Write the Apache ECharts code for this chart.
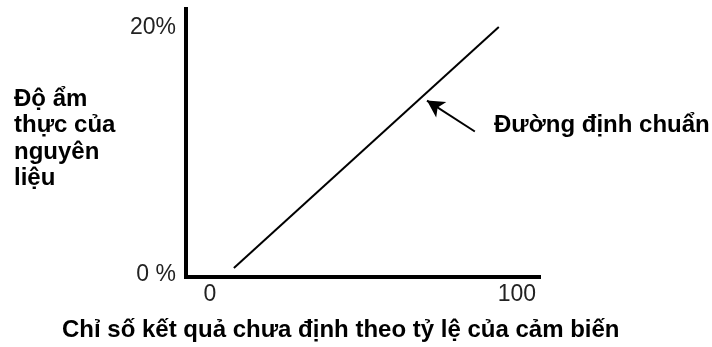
<!DOCTYPE html>
<html>
<head>
<meta charset="utf-8">
<script src="https://cdn.jsdelivr.net/npm/echarts@6/dist/echarts.min.js"></script>
<style>
  html, body { margin: 0; padding: 0; background: #fff; }
  #chart { width: 712px; height: 347px; }
</style>
</head>
<body>
<div id="chart"></div>
<script>
// Calibration line: sensor reading (0-100) against real moisture (%)
const calibX = [7.8, 94.1];
const calibY = [0.57, 20.04];

// Tick labels shown on each axis
const xTickValues = [0, 100];
const xTickLabels = ['0', '100'];
const yTickValues = [0, 20];
const yTickLabels = ['0 %', '20%'];

// Annotation arrow (tail -> head) in data units, and text
const arrowTail = [86.3, 11.6];
const arrowHead = [70.7, 14.1];
const lineLabel = 'Đường định chuẩn';
const yName = 'Độ ẩm\nthực của\nnguyên\nliệu';
const xName = 'Chỉ số kết quả chưa định theo tỷ lệ của cảm biến';

const boldFont = '"Liberation Sans", Arial, sans-serif';
const tickFont = '"Liberation Sans", Arial, sans-serif';

const chart = echarts.init(document.getElementById('chart'), null, { renderer: 'canvas' });

chart.setOption({
  animation: false,
  backgroundColor: '#ffffff',
  grid: { left: 186, right: 173, top: 9, bottom: 70 },
  xAxis: {
    type: 'value',
    min: -7.8,
    max: 107.2,
    splitLine: { show: false },
    axisTick: { show: false },
    axisLine: { show: true, onZero: false, lineStyle: { color: '#000', width: 4, cap: 'square' } },
    axisLabel: {
      customValues: xTickValues,
      formatter: v => xTickLabels[xTickValues.indexOf(v)],
      color: '#222',
      fontFamily: tickFont,
      fontSize: 23,
      margin: 6
    }
  },
  yAxis: {
    type: 'value',
    min: -0.16,
    max: 21.5,
    splitLine: { show: false },
    axisTick: { show: false },
    axisLine: { show: true, onZero: false, lineStyle: { color: '#000', width: 4, cap: 'square' } },
    axisLabel: {
      customValues: yTickValues,
      formatter: v => yTickLabels[yTickValues.indexOf(v)],
      color: '#222',
      fontFamily: tickFont,
      fontSize: 23,
      margin: 10
    }
  },
  graphic: [
    {
      type: 'text',
      left: 14,
      top: 86,
      style: {
        text: yName,
        font: 'bold 24px ' + boldFont,
        fill: '#000',
        lineHeight: 26.5
      }
    },
    {
      type: 'text',
      left: 494,
      top: 113,
      style: {
        text: lineLabel,
        font: 'bold 24px ' + boldFont,
        fill: '#000'
      }
    },
    {
      type: 'text',
      left: 62,
      top: 318,
      style: {
        text: xName,
        font: 'bold 24px ' + boldFont,
        fill: '#000'
      }
    }
  ],
  series: [
    {
      type: 'line',
      data: calibX.map((x, i) => [x, calibY[i]]),
      showSymbol: false,
      symbol: 'none',
      lineStyle: { color: '#000', width: 2 },
      silent: true,
      markLine: {
        silent: true,
        symbol: ['none', 'arrow'],
        symbolSize: [14, 17],
        label: { show: false },
        lineStyle: { color: '#000', width: 2, type: 'solid' },
        data: [[{ coord: arrowTail }, { coord: arrowHead }]]
      }
    }
  ]
});
</script>
</body>
</html>
